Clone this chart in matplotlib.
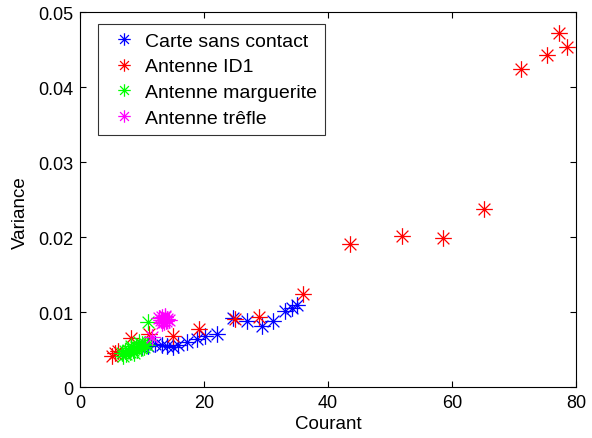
import matplotlib
matplotlib.use("Agg")
import matplotlib.pyplot as plt
from matplotlib.path import Path

plt.rcParams['font.family'] = ['Liberation Sans', 'DejaVu Sans']

carte_x = [10.0, 11.0, 12.1, 13.2, 14.0, 15.0, 15.8, 17.3, 18.9, 20.2, 22.1, 24.7, 27.0, 29.4, 31.2, 33.1, 34.2, 35.0]
carte_y = [0.0053, 0.0055, 0.0057, 0.0056, 0.0055, 0.0053, 0.0056, 0.0060, 0.0064, 0.0068, 0.0071, 0.0092,
           0.0088, 0.0082, 0.0088, 0.0101, 0.0106, 0.0109]

id1_x = [5.2, 5.6, 6.2, 8.2, 11.1, 15.0, 19.2, 25.0, 28.8, 35.9, 43.6, 51.9, 58.5, 65.1, 71.2, 75.3, 77.2, 78.5]
id1_y = [0.0042, 0.0046, 0.0048, 0.0065, 0.0071, 0.0068, 0.0078, 0.0091, 0.0093, 0.0124, 0.0191, 0.0201,
         0.0199, 0.0237, 0.0424, 0.0443, 0.0472, 0.0453]

marg_x = [6.8, 7.2, 7.5, 7.8, 8.0, 8.3, 8.5, 8.7, 9.0, 9.2, 9.5, 9.8, 10.0, 10.3, 10.5, 8.2, 9.6, 7.0, 10.8, 11.0]
marg_y = [0.0045, 0.0048, 0.0044, 0.0050, 0.0047, 0.0052, 0.0049, 0.0046, 0.0053, 0.0050, 0.0055, 0.0052,
          0.0057, 0.0054, 0.0058, 0.0055, 0.0060, 0.0041, 0.0056, 0.0087]

trefle_x = [12.8, 13.0, 13.2, 13.4, 13.5, 13.7, 13.9, 14.1, 14.3, 13.3, 13.8, 11.6]
trefle_y = [0.0092, 0.0089, 0.0094, 0.0090, 0.0087, 0.0093, 0.0088, 0.0091, 0.0089, 0.0086, 0.0095, 0.0067]

labels = ['Carte sans contact', 'Antenne ID1', 'Antenne marguerite', 'Antenne trêfle']
colors = ['#0000ff', '#ff0000', '#00ff00', '#ff00ff']

# MATLAB-style asterisk marker (8 rays)
d = 0.7071
verts = [(-1, 0), (1, 0), (0, -1), (0, 1), (-d, -d), (d, d), (-d, d), (d, -d)]
codes = [Path.MOVETO, Path.LINETO] * 4
star = Path(verts, codes)

fig = plt.figure(figsize=(5.92, 4.39), dpi=100)
ax = fig.add_axes([0.135, 0.116, 0.838, 0.854])

for xs, ys, c, lab in zip([carte_x, id1_x, marg_x, trefle_x], [carte_y, id1_y, marg_y, trefle_y], colors, labels):
    ax.plot(xs, ys, linestyle='none', marker=star, markersize=12, markeredgewidth=0.9,
            color=c, markeredgecolor=c, label=lab)

ax.set_xlim(0, 80)
ax.set_ylim(0, 0.05)
ax.set_xticks([0, 20, 40, 60, 80])
ax.set_yticks([0, 0.01, 0.02, 0.03, 0.04, 0.05])
ax.set_yticklabels(['0', '0.01', '0.02', '0.03', '0.04', '0.05'])
ax.tick_params(direction='in', top=True, right=True, labelsize=13, length=4, pad=5)
ax.set_xlabel('Courant', fontsize=13.5, labelpad=3)
ax.set_ylabel('Variance', fontsize=13.5)
ax.yaxis.set_label_coords(-0.103, 0.469)

leg = ax.legend(loc='upper left', fontsize=14, frameon=True, fancybox=False, edgecolor='black',
                bbox_to_anchor=(18 / 496, 1 - 12 / 375), borderaxespad=0,
                handletextpad=0.14, handlelength=1.88, labelspacing=0.42, borderpad=0.4)
leg.get_frame().set_linewidth(0.8)
for h in leg.legend_handles:
    h.set_markersize(9)

fig.savefig('out.png', dpi=100)
